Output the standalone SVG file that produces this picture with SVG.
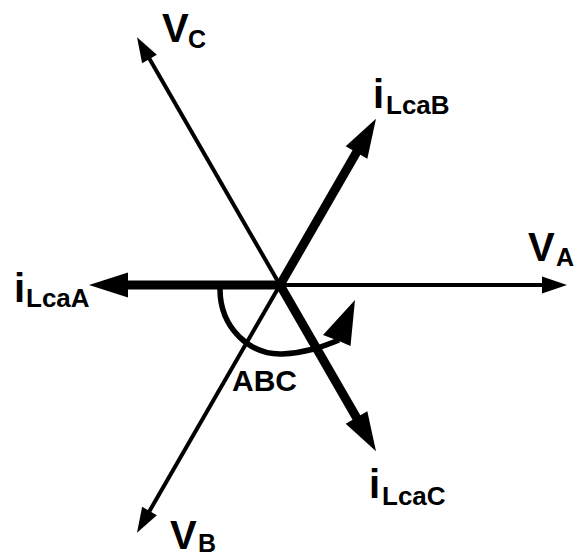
<svg xmlns="http://www.w3.org/2000/svg" width="578" height="558" viewBox="0 0 578 558">
<style>
text{font-family:"Liberation Sans",Arial,sans-serif;font-weight:bold;fill:#000}
.big{font-size:40px}
.sub{font-size:26px}
.subv{font-size:25px}
.abc{font-size:30px}
.thin{stroke:#000;stroke-width:4;fill:none;marker-end:url(#ah)}
.thick{stroke:#000;stroke-width:9;fill:none;marker-end:url(#ahb)}
</style>
<defs>
<marker id="ah" markerUnits="userSpaceOnUse" markerWidth="25" markerHeight="17" viewBox="-1 -8.5 25 17" refX="0" refY="0" orient="auto" overflow="visible">
<path d="M-1,-8.5 L24,0 L-1,8.5 z" fill="#000"/>
</marker>
<marker id="ahb" markerUnits="userSpaceOnUse" markerWidth="39" markerHeight="25" viewBox="-1 -12.5 39 25" refX="0" refY="0" orient="auto" overflow="visible">
<path d="M-1,-12.5 L38,0 L-1,12.5 z" fill="#000"/>
</marker>
</defs>
<g id="connectors">
<line class="thin" x1="280" y1="285" x2="543" y2="285"/>
<line class="thin" x1="280" y1="285" x2="149" y2="58.1"/>
<line class="thin" x1="280" y1="285" x2="149" y2="511.9"/>
<line class="thick" x1="284" y1="285" x2="127" y2="285"/>
<line class="thick" x1="280" y1="285" x2="357" y2="151.6"/>
<line class="thick" x1="280" y1="285" x2="357" y2="418.4"/>
<g id="arc">
<path d="M220,289 C220,328 250,355 282,354 C305,353 322,347 339,340" stroke="#000" stroke-width="5.5" fill="none"/>
<polygon points="355,300 350.5,346 339,341 323,335" fill="#000"/>
</g>
</g>
<g id="VA"><text class="big" x="528" y="261">V</text><text class="subv" x="556" y="266">A</text></g>
<g id="VB"><text class="big" x="170" y="549">V</text><text class="subv" x="198" y="552">B</text></g>
<g id="VC"><text class="big" x="162" y="42">V</text><text class="subv" x="188" y="48">C</text></g>
<g id="iLcaA"><text class="big" x="14" y="302">i</text><text class="sub" x="26" y="307">LcaA</text></g>
<g id="iLcaB"><text class="big" x="373" y="108">i</text><text class="sub" x="386" y="114">LcaB</text></g>
<g id="iLcaC"><text class="big" x="369" y="498">i</text><text class="sub" x="382" y="505">LcaC</text></g>
<g id="ABC"><text class="abc" x="232" y="391">ABC</text></g>
</svg>
